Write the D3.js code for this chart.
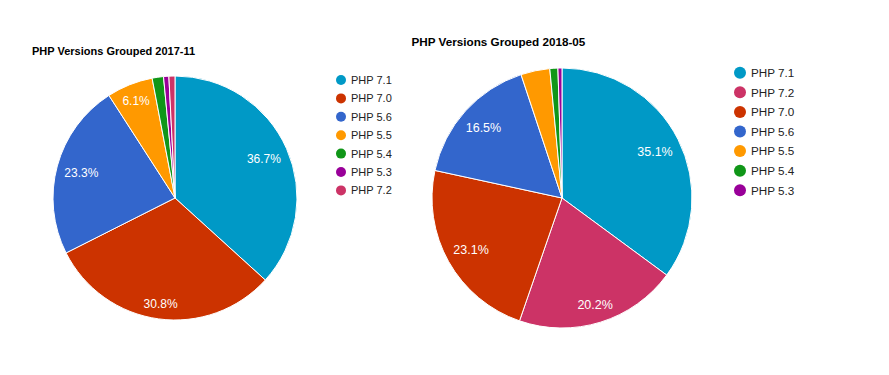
<!DOCTYPE html>
<html>
<head>
<meta charset="utf-8">
<script src="https://cdn.jsdelivr.net/npm/d3@7"></script>
<style>
  html, body { margin: 0; padding: 0; background: #fff; }
  svg { display: block; font-family: Arial, "Liberation Sans", sans-serif; }
</style>
</head>
<body>
<svg id="chart" width="889" height="375"></svg>
<script>
// ---- data ----
const title1 = "PHP Versions Grouped 2017-11";
const versions1 = ["PHP 7.1", "PHP 7.0", "PHP 5.6", "PHP 5.5", "PHP 5.4", "PHP 5.3", "PHP 7.2"];
const shares1 = [36.7, 30.8, 23.3, 6.1, 1.5, 0.7, 0.8];

const title2 = "PHP Versions Grouped 2018-05";
const versions2 = ["PHP 7.1", "PHP 7.2", "PHP 7.0", "PHP 5.6", "PHP 5.5", "PHP 5.4", "PHP 5.3"];
const shares2 = [35.1, 20.2, 23.1, 16.5, 3.6, 1.0, 0.5];

const colorVersions = ["PHP 7.1", "PHP 7.0", "PHP 5.6", "PHP 5.5", "PHP 5.4", "PHP 5.3", "PHP 7.2"];
const colorValues = ["#0099c6", "#cc3300", "#3366cc", "#ff9900", "#109618", "#990099", "#cc3366"];

const color = d3.scaleOrdinal().domain(colorVersions).range(colorValues);
const svg = d3.select("#chart");

function drawPie(cfg) {
  const data = cfg.versions.map((v, i) => ({ version: v, value: cfg.shares[i] }));
  const total = d3.sum(data, d => d.value);
  const pie = d3.pie().sort(null).value(d => d.value);
  const arcs = pie(data);
  const arc = d3.arc().innerRadius(0).outerRadius(cfg.r);

  svg.append("text")
    .attr("x", cfg.titleX).attr("y", cfg.titleY)
    .attr("font-size", cfg.titleSize).attr("font-weight", "bold")
    .attr("fill", "#000")
    .text(cfg.title);

  const g = svg.append("g").attr("transform", `translate(${cfg.cx},${cfg.cy})`);
  g.selectAll("path").data(arcs).join("path")
    .attr("d", arc)
    .attr("fill", d => color(d.data.version))
    .attr("stroke", "#fff").attr("stroke-width", 1);

  // slice labels: place the text box so its outer corner sits at ~0.94 r
  arcs.filter(d => d.data.value / total * 100 >= 5).forEach(d => {
    const pct = d.data.value / total * 100;
    const t = g.append("text")
      .attr("font-size", cfg.labelSize).attr("fill", "#fff")
      .attr("text-anchor", "middle")
      .text(d3.format(".1f")(pct) + "%");
    const w = t.node().getComputedTextLength();
    const h = cfg.labelSize * 0.75;
    const a = (d.startAngle + d.endAngle) / 2;
    const ux = Math.sin(a), uy = -Math.cos(a);
    const ox = Math.sign(ux) * w / 2, oy = Math.sign(uy) * h / 2;
    const R = cfg.r * 0.94;
    // |t*u + o| = R  -> t^2 + 2t(u.o) + |o|^2 - R^2 = 0
    const b = ux * ox + uy * oy;
    const c = ox * ox + oy * oy - R * R;
    const tt = -b + Math.sqrt(b * b - c);
    const x = tt * ux, y = tt * uy;
    t.attr("x", x).attr("y", y + h / 2);
  });

  const lg = svg.append("g").attr("transform", `translate(${cfg.legendX},${cfg.legendY})`);
  const rows = lg.selectAll("g").data(data).join("g")
    .attr("transform", (d, i) => `translate(0,${i * cfg.legendStep})`);
  rows.append("circle").attr("r", cfg.dotR).attr("cx", 0).attr("cy", 0)
    .attr("fill", d => color(d.version));
  rows.append("text")
    .attr("x", cfg.dotR + cfg.legendGap).attr("y", 0).attr("dy", "0.36em")
    .attr("font-size", cfg.legendSize).attr("fill", "#222")
    .text(d => d.version);
}

drawPie({
  title: title1, versions: versions1, shares: shares1,
  titleX: 32, titleY: 55, titleSize: 11,
  cx: 175, cy: 198, r: 122, labelSize: 12,
  legendX: 341, legendY: 80, legendStep: 18.4, dotR: 5, legendGap: 5, legendSize: 11
});

drawPie({
  title: title2, versions: versions2, shares: shares2,
  titleX: 411.5, titleY: 45.5, titleSize: 11.7,
  cx: 562, cy: 198, r: 130, labelSize: 12.5,
  legendX: 740, legendY: 72.7, legendStep: 19.6, dotR: 6, legendGap: 5, legendSize: 11.7
});
</script>
</body>
</html>
